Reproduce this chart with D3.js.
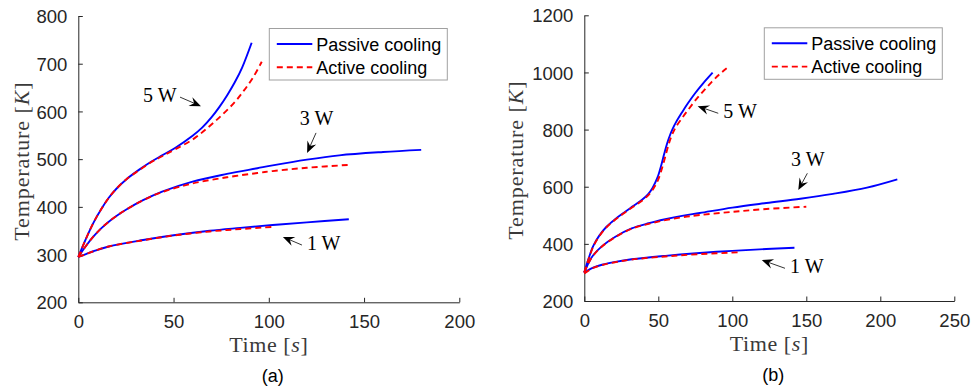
<!DOCTYPE html>
<html>
<head>
<meta charset="utf-8">
<script src="https://cdn.jsdelivr.net/npm/d3@7"></script>
<style>
  body { margin: 0; background: #fff; }
  .tick text { font-family: "Liberation Sans", Arial, sans-serif; font-size: 18.5px; fill: #262626; }
  .lbl { font-family: "Liberation Serif", "Times New Roman", serif; font-size: 22px; fill: #3a3a3a; }
  .note { font-family: "Liberation Serif", "Times New Roman", serif; font-size: 20px; fill: #000; }
  .legend text { font-family: "Liberation Sans", Arial, sans-serif; font-size: 18px; fill: #000; }
  .cap { font-family: "Liberation Sans", Arial, sans-serif; font-size: 18px; fill: #000; }
</style>
</head>
<body>
<div id="chart"></div>
<script>
// ---- data: [time s, temperature K] ----
const seriesNames = ["Passive cooling", "Active cooling"];
const powerLabels = ["1 W", "3 W", "5 W"];

// panel (a)
const timeTicksA = [0, 50, 100, 150, 200];
const tempTicksA = [200, 300, 400, 500, 600, 700, 800];
const passive1A = [[0,295],[4,301],[8,307],[16,317],[34,330.5],[51,341],[69,350],[85,356],[102,362],[120,367.5],[142,374]];
const active1A  = [[0,295],[4,301],[8,307],[16,317],[34,330],[51,340.5],[69,348.5],[85,353.5],[102,358]];
const passive3A = [[0,295],[4,318],[8,338],[12,355],[16,369],[20,381],[25,394],[34,414],[44,432],[60,453],[78,469],[94,481],[102,487],[120,499],[137,508],[160,515],[180,519.5]];
const active3A  = [[0,295],[4,318],[8,338],[12,355],[16,369],[20,381],[25,394],[34,414],[44,431],[60,449],[78,462],[94,471],[102,475],[120,482],[142,488]];
const passive5A = [[0,295],[4,333],[8,367],[12,395],[16,419],[20,438],[25,457],[32,478],[38,494],[44,508],[51,524],[60,549],[65,566],[70,588],[74,609],[78,633],[82,660],[86,692],[91,744]];
const active5A  = [[0,295],[4,333],[8,367],[12,395],[16,419],[20,438],[25,457],[32,477],[38,493],[44,506],[51,521],[60,541],[68,566],[75,591],[82,619],[87,644],[92,673],[96.3,704]];

// panel (b)
const timeTicksB = [0, 50, 100, 150, 200, 250];
const tempTicksB = [200, 400, 600, 800, 1000, 1200];
const passive1B = [[0,298],[3,309],[6,317],[12,327],[21,337],[32,346],[54.7,358],[78,368],[100,375.5],[123,382],[142,386.6]];
const active1B  = [[0,296],[3,307],[6,316],[12,326],[21,336],[32,345],[54.7,356],[78,364],[105,370.5]];
const passive3B = [[0,300],[3,335],[6,360],[12,392],[21,425],[32,454],[43.5,472],[54.7,486],[66,498],[78,508],[100,527],[123,543],[146,558],[168,575],[191,597],[211.5,626]];
const active3B  = [[0,300],[3,334],[6,359],[12,391],[21,424],[32,453],[43.5,470],[54.7,483],[66,493],[78,501],[100,512],[123,522],[150,530]];
const passive5B = [[0,300],[3,350],[6,392],[10,428],[15,460],[21,487],[27,510],[33,532],[39,554],[43,573],[46,595],[48,615],[50,640],[52,675],[54,715],[56,752],[58,782],[60,806],[62,826],[66,860],[70,892],[75,928],[80,960],[86.7,999]];
const active5B  = [[0,300],[3,348],[6,390],[10,426],[15,458],[21,485],[27,508],[33,530],[39,551],[43,569],[46,588],[48,605],[50,626],[52,656],[54,692],[56,730],[58,765],[60,790],[62,810],[66,840],[70,868],[75,902],[80,932],[86.3,968],[91,992],[96.2,1014.5]];

// annotation anchors in data units: text start, arrow tail, arrow tip (order = powerLabels)
const notesA = [
  { text: [120, 310], from: [117.4, 320], to: [107.4, 337] },
  { text: [116.3, 572], from: [124.8, 555], to: [120.1, 513] },
  { text: [34, 620], from: [53.4, 630], to: [64.4, 611] }
];
const notesB = [
  { text: [139, 299], from: [135.6, 314.5], to: [119.9, 343.5] },
  { text: [139.7, 673.6], from: [150.7, 647], to: [144.6, 588.5] },
  { text: [93.9, 840], from: [90.5, 857], to: [76.6, 882] }
];

const W = 973, H = 388;
const svg = d3.select("#chart").append("svg")
  .attr("width", W)
  .attr("height", H);

const panels = [
  { box: { l: 78.3, r: 459.3, t: 16, b: 302.3 }, xDom: [0, 200], yDom: [200, 800],
    xTicks: timeTicksA, yTicks: tempTicksA, ylabX: 22, cap: "(a)",
    passive: [passive1A, passive3A, passive5A], active: [active1A, active3A, active5A], notes: notesA },
  { box: { l: 584.3, r: 954.3, t: 15.3, b: 301 }, xDom: [0, 250], yDom: [200, 1200],
    xTicks: timeTicksB, yTicks: tempTicksB, ylabX: 516, cap: "(b)",
    passive: [passive1B, passive3B, passive5B], active: [active1B, active3B, active5B], notes: notesB }
];

function drawPanel(p) {
  const x = d3.scaleLinear().domain(p.xDom).range([p.box.l, p.box.r]);
  const y = d3.scaleLinear().domain(p.yDom).range([p.box.b, p.box.t]);
  const g = svg.append("g");

  // axes, MATLAB style: ticks pointing in, no box
  const xAxis = g.append("g")
    .attr("transform", `translate(0,${p.box.b})`)
    .call(d3.axisBottom(x).tickValues(p.xTicks).tickFormat(d3.format("d"))
      .tickSize(-4.5).tickPadding(13).tickSizeOuter(0));
  const yAxis = g.append("g")
    .attr("transform", `translate(${p.box.l},0)`)
    .call(d3.axisLeft(y).tickValues(p.yTicks).tickFormat(d3.format("d"))
      .tickSize(-4.5).tickPadding(11).tickSizeOuter(0));
  [xAxis, yAxis].forEach(a => {
    a.select(".domain").attr("stroke", "#262626");
    a.selectAll(".tick line").attr("stroke", "#262626");
    a.attr("font-size", null).attr("font-family", null);
  });
  yAxis.selectAll(".tick text").attr("dy", "0.36em");

  const line = d3.line()
    .x(d => x(d[0]))
    .y(d => y(d[1]))
    .curve(d3.curveCatmullRom.alpha(0.5));

  p.passive.forEach(s => {
    g.append("path").datum(s)
      .attr("d", line)
      .attr("fill", "none")
      .attr("stroke", "#0000ff")
      .attr("stroke-width", 1.9);
  });
  p.active.forEach(s => {
    g.append("path").datum(s)
      .attr("d", line)
      .attr("fill", "none")
      .attr("stroke", "#ff0000")
      .attr("stroke-width", 1.9)
      .attr("stroke-dasharray", "6,4");
  });

  // text arrows
  p.notes.forEach((n, i) => {
    const x0 = x(n.from[0]), y0 = y(n.from[1]);
    const x1 = x(n.to[0]), y1 = y(n.to[1]);
    const len = Math.hypot(x1 - x0, y1 - y0);
    const ux = (x1 - x0) / len, uy = (y1 - y0) / len;
    const L = 11.5, w = 4.8;
    const bx = x1 - ux * L, by = y1 - uy * L;
    const nx = x1 - ux * L * 0.65, ny = y1 - uy * L * 0.65;
    g.append("line")
      .attr("x1", x0).attr("y1", y0)
      .attr("x2", nx).attr("y2", ny)
      .attr("stroke", "#000")
      .attr("stroke-width", 0.8);
    g.append("path")
      .attr("d", `M${x1},${y1}L${bx - uy * w},${by + ux * w}L${nx},${ny}L${bx + uy * w},${by - ux * w}Z`)
      .attr("fill", "#000");
    g.append("text")
      .attr("class", "note")
      .attr("x", x(n.text[0]))
      .attr("y", y(n.text[1]))
      .text(powerLabels[i]);
  });

  // legend
  const lw = 178, lh = 51.5;
  const lx = p.box.r - 12 - lw, ly = p.box.t + 12.5;
  const leg = g.append("g").attr("class", "legend").attr("transform", `translate(${lx},${ly})`);
  leg.append("rect")
    .attr("width", lw).attr("height", lh)
    .attr("fill", "#fff")
    .attr("stroke", "#a0a0a0")
    .attr("stroke-width", 1);
  seriesNames.forEach((name, i) => {
    const ry = 15.5 + i * 23.3;
    leg.append("line")
      .attr("x1", 7.5).attr("x2", 43)
      .attr("y1", ry).attr("y2", ry)
      .attr("stroke", i === 0 ? "#0000ff" : "#ff0000")
      .attr("stroke-width", 1.9)
      .attr("stroke-dasharray", i === 0 ? null : "6,4");
    leg.append("text")
      .attr("x", 47)
      .attr("y", ry + 6.5)
      .text(name);
  });

  // axis labels
  const cx = (p.box.l + p.box.r) / 2;
  const xl = g.append("text")
    .attr("class", "lbl")
    .attr("x", cx)
    .attr("y", p.box.b + 50)
    .attr("text-anchor", "middle")
    .style("letter-spacing", "0.6px");
  xl.append("tspan").text("Time [");
  xl.append("tspan").style("font-style", "italic").text("s");
  xl.append("tspan").text("]");

  const yl = g.append("text")
    .attr("class", "lbl")
    .attr("transform", `translate(${p.ylabX + 7},${(p.box.t + p.box.b) / 2 + 2}) rotate(-90)`)
    .attr("text-anchor", "middle")
    .style("letter-spacing", "0.9px");
  yl.append("tspan").text("Temperature [");
  yl.append("tspan").style("font-style", "italic").text("K");
  yl.append("tspan").text("]");

  g.append("text")
    .attr("class", "cap")
    .attr("x", cx + 4)
    .attr("y", p.box.b + 80)
    .attr("text-anchor", "middle")
    .text(p.cap);
}

panels.forEach(drawPanel);
</script>
</body>
</html>
